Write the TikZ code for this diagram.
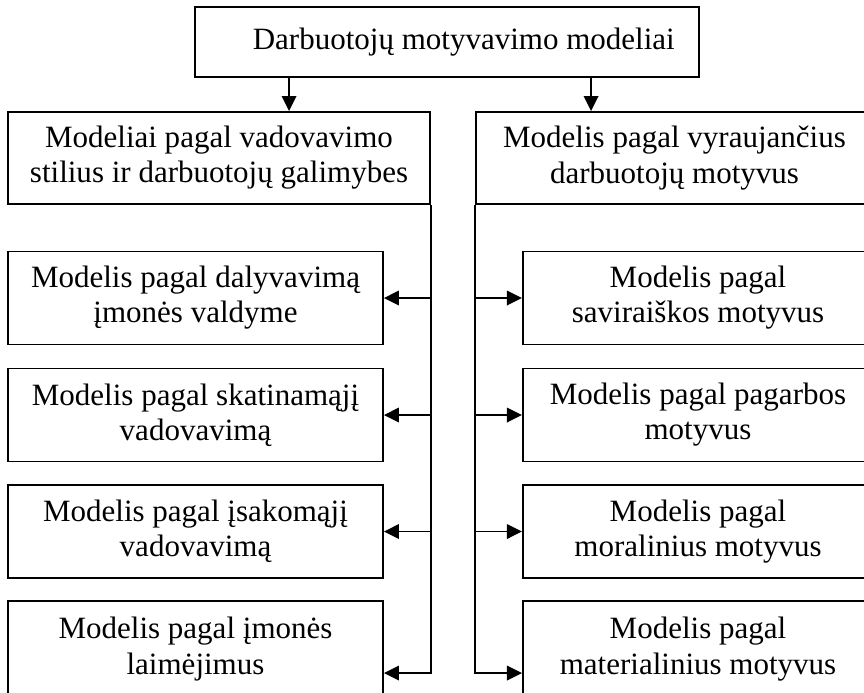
\documentclass[tikz,border=0pt]{standalone}
\usepackage{fontspec}
\setmainfont{Liberation Serif}
\definecolor{MotInk}{HTML}{000000}
\usetikzlibrary{arrows.meta,positioning,calc}

\begin{document}
\begin{tikzpicture}[x=0.387pt,y=-0.387pt,>={Triangle[length=5.8pt,width=5.6pt]},
    box/.style={draw=MotInk,line width=0.75pt,align=center,inner sep=0pt,
      font=\fontsize{12pt}{13.6pt}\selectfont},
    link/.style={draw=MotInk,line width=0.75pt}]
  \useasboundingbox (0,0) rectangle (864,692);
  \node[box,minimum width=195pt,minimum height=27.1pt] (modeliai) at (447,42)
    {\hspace*{13pt}Darbuotojų motyvavimo modeliai};
  \node[box,minimum width=163.3pt,minimum height=35.6pt] (vadov) at (219,158)
    {Modeliai pagal vadovavimo\\stilius ir darbuotojų galimybes};
  \node[box,minimum width=153.6pt,minimum height=35.6pt] (motyv) at (674.5,158)
    {Modelis pagal vyraujančius\\darbuotojų motyvus};
  \foreach \i/\y/\h/\txt in {1/298/36/{Modelis pagal dalyvavimą\\įmonės valdyme},
      2/415/36/{Modelis pagal skatinamąjį\\vadovavimą},
      3/531.5/36/{Modelis pagal įsakomąjį\\vadovavimą},
      4/649/37.2/{Modelis pagal įmonės\\laimėjimus}}
    \node[box,minimum width=145.1pt,minimum height=\h pt] (v\i) at (195.5,\y) {\txt};
  \foreach \i/\y/\h/\txt in {1/298/36/{Modelis pagal\\saviraiškos motyvus},
      2/415/36/{Modelis pagal pagarbos\\motyvus},
      3/531.5/36/{Modelis pagal\\moralinius motyvus},
      4/649/37.2/{Modelis pagal\\materialinius motyvus}}
    \node[box,minimum width=135.5pt,minimum height=\h pt] (m\i) at (698,\y) {\txt};
  % connectors
  \path (modeliai.south west) ++(95,0) coordinate (d1) ++(302,0) coordinate (d2);
  \draw[link,->] (d1) -- (d1 |- vadov.north);
  \draw[link,->] (d2) -- (d2 |- motyv.north);
  \path (v4.south east) ++(0,-25) coordinate (vlast);
  \path (m4.south west) ++(0,-25) coordinate (mlast);
  \draw[link,->] (vadov.south east) |- (vlast);
  \draw[link,->] (motyv.south west) |- (mlast);
  \foreach \i in {1,2,3} {
    \draw[link,->] (vadov.south east |- v\i.east) -- (v\i.east);
    \draw[link,->] (motyv.south west |- m\i.west) -- (m\i.west);
  }
\end{tikzpicture}
\end{document}
